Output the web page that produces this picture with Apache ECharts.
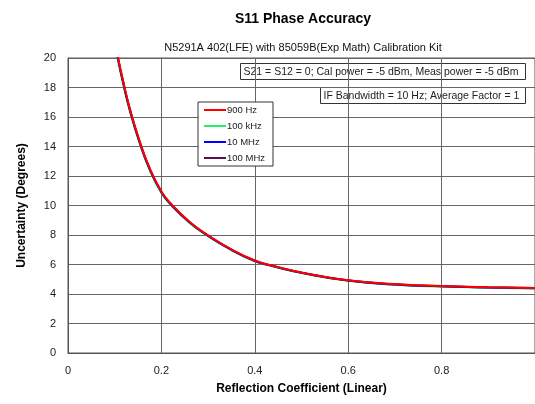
<!DOCTYPE html>
<html>
<head>
<meta charset="utf-8">
<script src="https://cdn.jsdelivr.net/npm/echarts@6/dist/echarts.min.js"></script>
<style>
	html, body { margin: 0; padding: 0; background: #fff; }
	#chart { width: 535px; height: 404px; }
</style>
</head>
<body>
<div id="chart"></div>
<script>
// values
var reflection = [0.106, 0.119, 0.133, 0.153, 0.174, 0.2, 0.221, 0.26, 0.294, 0.35, 0.4, 0.438, 0.5, 0.6, 0.7, 0.8, 0.9, 1.0];
var hz900   = [20.2, 18.3, 16.5, 14.4, 12.6, 10.95, 10.1, 8.9, 8.1, 7.02, 6.27, 5.92, 5.46, 4.93, 4.67, 4.54, 4.46, 4.41];
var khz100  = [20.0, 18.1, 16.32, 14.25, 12.47, 10.85, 10.01, 8.83, 8.04, 6.97, 6.22, 5.88, 5.42, 4.89, 4.63, 4.5, 4.42, 4.37];
var mhz10   = [20.1, 18.2, 16.41, 14.32, 12.53, 10.9, 10.05, 8.86, 8.07, 6.99, 6.24, 5.9, 5.44, 4.91, 4.65, 4.52, 4.44, 4.39];
var mhz100  = [20.15, 18.25, 16.45, 14.36, 12.57, 10.93, 10.08, 8.88, 8.09, 7.01, 6.26, 5.91, 5.45, 4.92, 4.66, 4.53, 4.45, 4.4];
var seriesNames = ['900 Hz', '100 kHz', '10 MHz', '100 MHz'];
var seriesColors = ['#ff0000', '#22ee66', '#0000ff', '#5a1050'];

function pairs(ys) {
	return reflection.map(function (x, i) { return [x, ys[i]]; });
}

var font = 'Liberation Sans, Arial, sans-serif';
var chart = echarts.init(document.getElementById('chart'));

var allData = [hz900, khz100, mhz10, mhz100];
// draw order: green, blue, purple, red on top
var order = [1, 2, 3, 0];
var series = order.map(function (k) {
	return {
		name: seriesNames[k],
		type: 'line',
		smooth: 0.5,
		symbol: 'none',
		lineStyle: { width: 2, color: seriesColors[k] },
		itemStyle: { color: seriesColors[k] },
		data: pairs(allData[k])
	};
});

var option = {
	animation: false,
	backgroundColor: '#fff',
	textStyle: { fontFamily: font },
	title: [
		{
			text: 'S11 Phase Accuracy',
			left: 298, top: 7, textAlign: 'center',
			textStyle: { fontSize: 14, fontWeight: 'bold', color: '#000', fontFamily: font }
		},
		{
			text: 'N5291A 402(LFE) with 85059B(Exp Math) Calibration Kit',
			left: 298, top: 37, textAlign: 'center',
			textStyle: { fontSize: 11, fontWeight: 'normal', color: '#111', fontFamily: font }
		}
	],
	grid: { left: 68, top: 58, right: 0, bottom: 51, show: true, borderColor: '#555', borderWidth: 1 },
	legend: {
		data: seriesNames,
		orient: 'vertical',
		left: 198, top: 102,
		width: 80,
		padding: [3, 8, 3, 6],
		itemGap: 6,
		itemWidth: 22, itemHeight: 2,
		icon: 'rect',
		backgroundColor: '#fff',
		borderColor: '#333', borderWidth: 1,
		textStyle: { fontSize: 9.5, color: '#222', padding: [0, 0, 0, -4] }
	},
	xAxis: {
		type: 'value', min: 0, max: 1, interval: 0.2,
		name: 'Reflection Coefficient (Linear)',
		nameLocation: 'middle', nameGap: 30,
		nameTextStyle: { fontSize: 12, fontWeight: 'bold', color: '#000' },
		axisLine: { show: true, lineStyle: { color: '#555' } },
		axisTick: { show: false },
		axisLabel: { fontSize: 11, color: '#222', showMaxLabel: false, margin: 12 },
		splitLine: { show: true, lineStyle: { color: '#666', width: 1 } }
	},
	yAxis: {
		type: 'value', min: 0, max: 20, interval: 2,
		name: 'Uncertainty (Degrees)',
		nameLocation: 'middle', nameGap: 40, nameRotate: 90,
		nameTextStyle: { fontSize: 12, fontWeight: 'bold', color: '#000' },
		axisLine: { show: true, lineStyle: { color: '#555' } },
		axisTick: { show: false },
		axisLabel: { fontSize: 11, color: '#222', margin: 12 },
		splitLine: { show: true, lineStyle: { color: '#666', width: 1 } }
	},
	graphic: [
		{
			type: 'group', left: 240, top: 63,
			children: [
				{ type: 'rect', shape: { x: 0, y: 0, width: 285, height: 16 },
					style: { fill: '#fff', stroke: '#333', lineWidth: 1 } },
				{ type: 'text', x: 3, y: 3,
					style: { text: 'S21 = S12 = 0; Cal power = -5 dBm, Meas power = -5 dBm',
						font: '10.5px ' + font, fill: '#222' } }
			]
		},
		{
			type: 'group', left: 320, top: 87,
			children: [
				{ type: 'rect', shape: { x: 0, y: 0, width: 205, height: 16 },
					style: { fill: '#fff', stroke: '#333', lineWidth: 1 } },
				{ type: 'text', x: 3, y: 3,
					style: { text: 'IF Bandwidth = 10 Hz; Average Factor = 1',
						font: '10.5px ' + font, fill: '#222' } }
			]
		}
	],
	series: series
};

chart.setOption(option);
</script>
</body>
</html>
